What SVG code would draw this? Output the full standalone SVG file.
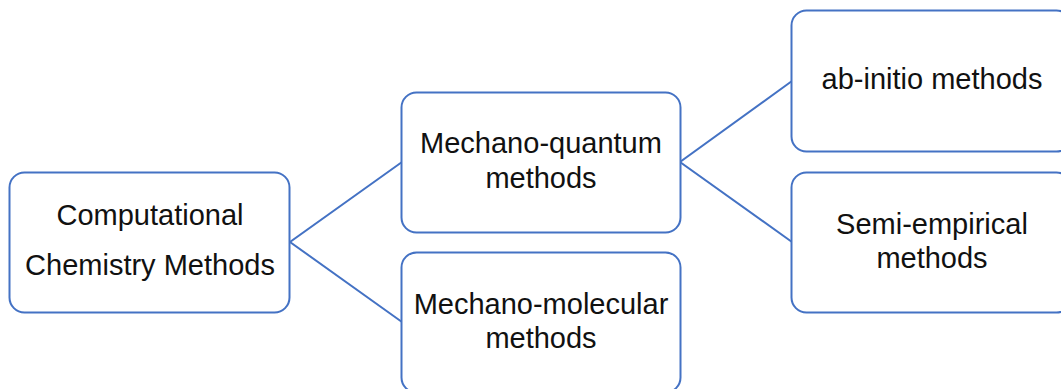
<svg xmlns="http://www.w3.org/2000/svg" width="1061" height="389" viewBox="0 0 1061 389">
  <style>
    .box { fill: #ffffff; stroke: #4472c4; stroke-width: 2; }
    .link { fill: none; stroke: #4472c4; stroke-width: 2; }
    .label { font-family: "Liberation Sans", Arial, sans-serif; font-size: 29px; fill: #111111; text-anchor: middle; }
  </style>
  <rect width="1061" height="389" fill="#ffffff"/>

  <!-- tree branches -->
  <g id="connectors">
    <polyline class="link" points="402,162 290,242 402,322"/>
    <polyline class="link" points="792,81 680,162 792,242"/>
  </g>

  <g id="node-root">
    <rect class="box" x="9.5" y="172.5" width="280" height="140" rx="15"/>
    <text class="label" x="150" y="225">Computational</text>
    <text class="label" x="150" y="275">Chemistry Methods</text>
  </g>

  <g id="node-quantum">
    <rect class="box" x="401.5" y="92.5" width="279" height="140" rx="15"/>
    <text class="label" x="541" y="153">Mechano-quantum</text>
    <text class="label" x="541" y="188">methods</text>
  </g>

  <g id="node-molecular">
    <rect class="box" x="401.5" y="252.5" width="279" height="140" rx="15"/>
    <text class="label" x="541" y="314">Mechano-molecular</text>
    <text class="label" x="541" y="348">methods</text>
  </g>

  <g id="node-abinitio">
    <rect class="box" x="791.5" y="10.5" width="280" height="141" rx="15"/>
    <text class="label" x="932" y="89">ab-initio methods</text>
  </g>

  <g id="node-semiempirical">
    <rect class="box" x="791.5" y="172.5" width="280" height="140" rx="15"/>
    <text class="label" x="932" y="234">Semi-empirical</text>
    <text class="label" x="932" y="268">methods</text>
  </g>
</svg>
